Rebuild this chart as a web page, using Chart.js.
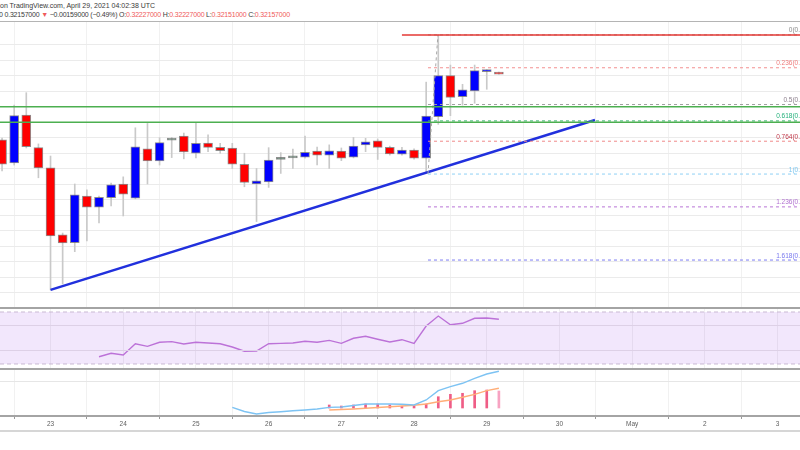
<!DOCTYPE html>
<html><head><meta charset="utf-8">
<script src="https://cdn.jsdelivr.net/npm/chart.js@4.4.1/dist/chart.umd.min.js"></script>
<style>
html,body{margin:0;padding:0;background:#fff;width:800px;height:450px;overflow:hidden;font-family:"Liberation Sans",Arial,sans-serif;}
.hdr{position:absolute;left:0;font-size:7px;color:#3a3a3a;white-space:nowrap;line-height:9px;}
.r{color:#ef5a5a;}
.bar{position:absolute;left:0;width:800px;}
.box{position:absolute;left:0;width:800px;}
</style></head><body>
<div class="hdr" id="h1" style="top:1px">on TradingView.com, April 29, 2021 04:02:38 UTC</div>
<div class="hdr" id="h2" style="top:10px;left:-1px;letter-spacing:-0.2px">0 0.32157000 <span class="r">▼</span> −0.00159000 (−0.49%) O:<span class="r">0.32227000</span> H:<span class="r">0.32227000</span> L:<span class="r">0.32151000</span> C:<span class="r">0.32157000</span></div>
<div class="box" style="top:22px;height:285px"><canvas id="main"></canvas></div>
<div class="box" style="top:309px;height:59px"><canvas id="rsi"></canvas></div>
<div class="box" style="top:370px;height:61px"><canvas id="macd"></canvas></div>
<div class="bar" style="top:21px;height:1px;background:#b4b4b4"></div>
<div class="bar" style="top:307px;height:2px;background:#a4a4a4"></div>
<div class="bar" style="top:368px;height:2px;background:#a4a4a4"></div>
<div class="bar" style="top:415px;height:2px;background:#a4a4a4"></div>
<div class="bar" style="top:430px;height:2px;background:#d6d6d6"></div>
<script>
// ---- data (4h candles, x = candle index; index 4 = Apr 23 00:00) ----
const dayTickIdx = [4, 10, 16, 22, 28, 34, 40, 46, 52, 58, 64];
const dayLabels  = ['23', '24', '25', '26', '27', '28', '29', '30', 'May', '2', '3'];

const open  = [0.2993,0.2919,0.3073,0.2968,0.2903,0.2687,0.2662,0.2812,0.2776,0.2807,0.2851,0.2805,0.2964,0.2925,0.2992,0.3005,0.2950,0.2983,0.2969,0.2967,0.2914,0.2851,0.2858,0.2930,0.2935,0.2937,0.2957,0.2944,0.2957,0.2937,0.2977,0.2990,0.2969,0.2947,0.2960,0.2934,0.3068,0.3200,0.3132,0.3151,0.3213,0.3211];
const high  = [0.2999,0.3105,0.3145,0.2980,0.2941,0.2693,0.2851,0.2832,0.2812,0.2854,0.2874,0.3032,0.3046,0.3000,0.3001,0.3015,0.3048,0.3009,0.2982,0.2982,0.2950,0.2901,0.2968,0.2952,0.2963,0.3005,0.2970,0.2977,0.2967,0.3001,0.2998,0.2996,0.2973,0.2969,0.2964,0.3179,0.3331,0.3234,0.3172,0.3234,0.3219,0.3211];
const low   = [0.2893,0.2912,0.2967,0.2871,0.2510,0.2529,0.2633,0.2668,0.2726,0.2780,0.2748,0.2803,0.2851,0.2912,0.2936,0.2932,0.2935,0.2955,0.2950,0.2901,0.2842,0.2730,0.2840,0.2885,0.2901,0.2934,0.2912,0.2901,0.2926,0.2935,0.2955,0.2930,0.2944,0.2944,0.2931,0.2890,0.3043,0.3071,0.3105,0.3111,0.3156,0.3205];
const close = [0.2915,0.3071,0.2971,0.2903,0.2684,0.2661,0.2816,0.2776,0.2808,0.2848,0.2818,0.2971,0.2925,0.2984,0.2993,0.2954,0.2982,0.2969,0.2958,0.2915,0.2856,0.2861,0.2928,0.2931,0.2936,0.2953,0.2944,0.2958,0.2934,0.2973,0.2987,0.2969,0.2948,0.2960,0.2934,0.3070,0.3200,0.3130,0.3154,0.3216,0.3218,0.3205];

const greenLevels = [0.3100, 0.3050];
const redLevel = 0.3331, redLevelStart = 33;
const fibHigh = 0.3331, fibLow = 0.2883, fibStart = 35.15, fibTopX = 35.97;
const fibRatios = [0, 0.236, 0.5, 0.618, 0.764, 1, 1.236, 1.618];
const fibLabels = ['0(0.', '0.236(0.', '0.5(0.', '0.618(0.', '0.764(0.', '1(0.', '1.236(0.', '1.618(0.'];
const trendX = [4, 48.93];
const trendY = [0.2510, 0.3057];

const rsiStart = 8;
const rsiValues = [35.6,38.2,36.9,45.6,43.6,46.7,47.2,45.4,46.7,46.2,45.6,43.1,39.8,40.0,45.6,45.9,46.2,47.5,46.7,48.2,45.9,49.8,51.3,49.0,46.9,48.7,45.9,59.2,66.9,60.2,61.3,65.2,65.4,64.4];
const rsiUpper = 70, rsiLower = 30;

const macdStart = 19;
const macdLine = [0.00013,-0.00067,-0.00115,-0.00087,-0.00071,-0.00054,-0.00038,-0.00019,0.00013,0.00019,0.00048,0.00077,0.00077,0.00077,0.00071,0.00058,0.00154,0.00333,0.0041,0.00475,0.00571,0.00654,0.00706];
const signalStart = 27;
const signalLine = [-0.00038,-0.00029,-0.00019,-0.00006,0.0001,0.00023,0.00038,0.00052,0.00077,0.00121,0.00154,0.00206,0.00263,0.00333,0.00379];
const histStart = 27;
const histValues = [0.00058,0.00038,0.00058,0.00077,0.00077,0.00058,0.00033,0.00038,0.00077,0.00217,0.00263,0.00283,0.00333,0.00346,0.00327];

// ---- styling / layout ----
const FONT = '"Liberation Sans", Arial, sans-serif';
const X_MIN = -0.17, X_MAX = 65.85;
const UP = '#0000ff', DOWN = '#ff0000';
const fibColors = ['#9a9a9a', '#f39090', '#a0a0a0', '#3cb371', '#f08a8a', '#8fd0f5', '#b874d6', '#7d7df2'];
const fibTextColors = ['#8a8a8a', '#ef7b7b', '#8c7f8c', '#22b07a', '#c0394a', '#7cc6ef', '#b070d0', '#7777ee'];

Chart.defaults.font.family = FONT;
Chart.defaults.animation = false;

function xAxis(showLabels) {
  return {
    type: 'linear', min: X_MIN, max: X_MAX, offset: false,
    grid: { color: '#f1f1f1', drawTicks: showLabels, tickLength: 3, tickColor: '#9a9a9a' },
    border: { display: false },
    afterBuildTicks: s => { s.ticks = dayTickIdx.map(v => ({ value: v })); },
    ticks: { display: showLabels, autoSkip: false, maxRotation: 0, padding: 1,
      font: { size: 6.5, family: FONT }, color: '#606060',
      callback: v => dayLabels[dayTickIdx.indexOf(v)] },
    afterFit: s => { s.height = showLabels ? 15 : 0; }
  };
}
function yAxis(min, max, step, colorFn) {
  return {
    min, max, border: { display: false },
    grid: { drawTicks: false, color: ctx => colorFn(ctx.tick.value) },
    ticks: { display: false, stepSize: step },
    afterFit: s => { s.width = 0; }
  };
}
const isMult = (v, s) => Math.abs(v / s - Math.round(v / s)) < 1e-6;
const lineDs = (data, color, width, dash, extra) => Object.assign({
  type: 'line', data, borderColor: color, borderWidth: width, borderDash: dash || [],
  pointRadius: 0, fill: false, tension: 0, order: 0
}, extra || {});

// ---- main price chart ----
const idx = open.map((_, i) => i);
const bodyColors = idx.map(i => Math.abs(close[i] - open[i]) < 0.00015 ? '#5b7c6a' : (close[i] >= open[i] ? UP : DOWN));

const datasets = [
  { type: 'bar', data: idx.map(i => ({ x: i, y: [low[i], high[i]] })), backgroundColor: '#c9c9c9',
    barThickness: 1, grouped: false, order: 3, borderWidth: 0 },
  { type: 'bar', data: idx.map(i => ({ x: i, y: [open[i], close[i]] })), backgroundColor: bodyColors,
    borderColor: 'rgba(105,105,105,0.75)', borderWidth: 1, borderSkipped: false,
    barThickness: 9, grouped: false, minBarLength: 2, order: 2 }
];
greenLevels.forEach(v => datasets.push(lineDs([{ x: X_MIN, y: v }, { x: X_MAX, y: v }], '#4caf50', 1.5)));
datasets.push(lineDs([{ x: redLevelStart, y: redLevel }, { x: X_MAX, y: redLevel }], '#e53935', 1.5));
fibRatios.forEach((r, k) => {
  const v = fibHigh - r * (fibHigh - fibLow);
  datasets.push(lineDs([{ x: fibStart, y: v }, { x: X_MAX, y: v }], fibColors[k], 1, [3, 3]));
});
datasets.push(lineDs([{ x: fibStart, y: fibLow }, { x: fibTopX, y: fibHigh }], '#a8a8a8', 1, [3, 3]));
datasets.push(lineDs(trendX.map((x, k) => ({ x, y: trendY[k] })), '#2130dd', 2.5));

const fibLabelPlugin = {
  id: 'fibLabels',
  afterDatasetsDraw(chart) {
    const { ctx } = chart, y = chart.scales.y;
    ctx.save();
    ctx.font = '6.5px ' + FONT;
    ctx.textAlign = 'right';
    ctx.textBaseline = 'bottom';
    fibRatios.forEach((r, k) => {
      const v = fibHigh - r * (fibHigh - fibLow);
      ctx.fillStyle = fibTextColors[k];
      ctx.fillText(fibLabels[k], chart.width, y.getPixelForValue(v) - 1);
    });
    ctx.restore();
  }
};

new Chart(document.getElementById('main'), {
  type: 'bar',
  data: { datasets },
  options: {
    responsive: true, maintainAspectRatio: false, layout: { padding: 0 },
    plugins: { legend: { display: false }, tooltip: { enabled: false } },
    scales: {
      x: xAxis(false),
      y: yAxis(0.24549, 0.33726, 0.005, v => isMult(v, 0.005) ? '#ebebeb' : 'rgba(0,0,0,0)')
    }
  },
  plugins: [fibLabelPlugin]
});

// ---- RSI ----
new Chart(document.getElementById('rsi'), {
  type: 'line',
  data: { datasets: [
    lineDs([{ x: X_MIN, y: rsiUpper }, { x: X_MAX, y: rsiUpper }], '#c9b9d3', 1, [4, 3]),
    lineDs([{ x: X_MIN, y: rsiLower }, { x: X_MAX, y: rsiLower }], '#c9b9d3', 1, [4, 3],
      { fill: '-1', backgroundColor: 'rgba(150,60,230,0.12)' }),
    lineDs(rsiValues.map((v, k) => ({ x: rsiStart + k, y: v })), '#c27ad6', 1.4)
  ] },
  options: {
    responsive: true, maintainAspectRatio: false, layout: { padding: 0 },
    plugins: { legend: { display: false }, tooltip: { enabled: false } },
    scales: {
      x: xAxis(false),
      y: Object.assign(yAxis(26.92, 72.31, 10, v => 'rgba(0,0,0,0)'), { grid: { drawTicks: false, z: 1, color: ctx => (ctx.tick.value === 40 || ctx.tick.value === 60) ? '#ddd0e6' : 'rgba(0,0,0,0)' } })
    }
  }
});

// ---- MACD ----
new Chart(document.getElementById('macd'), {
  type: 'bar',
  data: { datasets: [
    { type: 'bar', data: histValues.map((v, k) => ({ x: histStart + k, y: v })),
      backgroundColor: histValues.map((v, k) => k === histValues.length - 1 ? '#f7a3c2' : '#ef5d86'),
      barThickness: 2, grouped: false, order: 2 },
    lineDs(macdLine.map((v, k) => ({ x: macdStart + k, y: v })), '#7dc3f3', 1.4),
    lineDs(signalLine.map((v, k) => ({ x: signalStart + k, y: v })), '#ffae78', 1.4)
  ] },
  options: {
    responsive: true, maintainAspectRatio: false, layout: { padding: 0 },
    plugins: { legend: { display: false }, tooltip: { enabled: false } },
    scales: {
      x: xAxis(true),
      y: yAxis(-0.001538, 0.007307, 0.005, v => isMult(v, 0.005) ? '#e6e6e6' : 'rgba(0,0,0,0)')
    }
  }
});
</script>
</body></html>
